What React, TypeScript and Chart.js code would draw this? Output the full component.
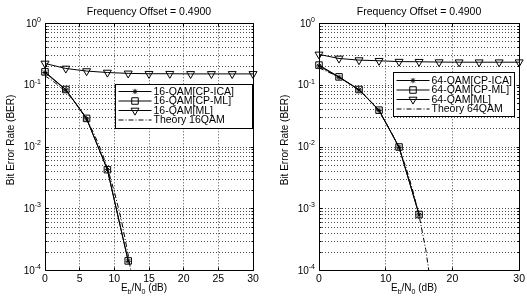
import React, { useEffect, useRef } from 'react';
import { Chart, registerables } from 'chart.js';

Chart.register(...registerables);

const FONT = '"Liberation Sans", Arial, Helvetica, sans-serif';

// ---- shared text / axes ----
const PLOT_TITLE = 'Frequency Offset = 0.4900';
const Y_AXIS_TITLE = 'Bit Error Rate (BER)';
const Y_MIN = 1e-4;
const Y_MAX = 1;
const Y_DECADE_EXPONENTS = [-4, -3, -2, -1, 0];
const Y_TICK_BASE = '10';
const Y_MINOR_MANTISSAS = [1, 2, 3, 4, 5, 6, 7, 8, 9];
const X_MIN = 0;
const X_MAX = 30;

// ---- left panel: 16-QAM ----
const legend16 = ['16-QAM[CP-ICA]', '16-QAM[CP-ML]', '16-QAM[ML]', 'Theory 16QAM'];
const xStep16 = 5;
const snrCp16 = [0, 3, 6, 9, 12];
const berCpIca16 = [0.16, 0.084, 0.0285, 0.0043, 0.000142];
const berCpMl16 = [0.164, 0.085, 0.029, 0.0043, 0.000144];
const snrMl16 = [0, 3, 6, 9, 12, 15, 18, 21, 24, 27, 30];
const berMl16 = [0.224, 0.186, 0.169, 0.16, 0.155, 0.153, 0.153, 0.152, 0.152, 0.152, 0.152];
const snrTheory16 = [0, 1, 2, 3, 4, 5, 6, 7, 8, 9, 10, 11, 12, 13];
const berTheory16 = [0.141, 0.1195, 0.0981, 0.0776, 0.0586, 0.0419, 0.0279, 0.017, 0.0094, 0.0046, 0.0019, 0.00067, 0.00018, 0.000037];

// ---- right panel: 64-QAM ----
const legend64 = ['64-QAM[CP-ICA]', '64-QAM[CP-ML]', '64-QAM[ML]', 'Theory 64QAM'];
const xStep64 = 10;
const snrCp64 = [0, 3, 6, 9, 12, 15];
const berCpIca64 = [0.205, 0.134, 0.084, 0.039, 0.0099, 0.0008];
const berCpMl64 = [0.211, 0.136, 0.085, 0.0394, 0.01, 0.00081];
const snrMl64 = [0, 3, 6, 9, 12, 15, 18, 21, 24, 27, 30];
const berMl64 = [0.314, 0.27, 0.254, 0.248, 0.24, 0.239, 0.236, 0.235, 0.235, 0.235, 0.235];
const snrTheory64 = [0, 1, 2, 3, 4, 5, 6, 7, 8, 9, 10, 11, 12, 13, 14, 15, 16, 17];
const berTheory64 = [0.19, 0.17, 0.152, 0.133, 0.115, 0.098, 0.082, 0.066, 0.051, 0.037, 0.025, 0.016, 0.0095, 0.0048, 0.0021, 0.00078, 0.00022, 0.00004];

const Y_GRID_VALUES: number[] = [];
Y_DECADE_EXPONENTS.forEach((e, i) => {
  if (i === Y_DECADE_EXPONENTS.length - 1) {
    Y_GRID_VALUES.push(Math.pow(10, e));
  } else {
    Y_MINOR_MANTISSAS.forEach((m) => Y_GRID_VALUES.push(m * Math.pow(10, e)));
  }
});

const CANVAS_H = 303;
const PLOT_BOTTOM = 270.7;
const GRID_COLOR = 'rgba(0,0,0,0.7)';

type PanelCfg = {
  left: number;
  width: number;
  plotLeft: number;
  plotRight: number;
  xStep: number;
  labels: string[];
  snrCp: number[];
  berCpIca: number[];
  berCpMl: number[];
  snrMl: number[];
  berMl: number[];
  snrTh: number[];
  berTh: number[];
  legend: { rightGap: number; top: number; width: number; height: number; firstRow: number };
};

const PANELS: PanelCfg[] = [
  {
    left: 0, width: 262, plotLeft: 45, plotRight: 253, xStep: xStep16, labels: legend16,
    snrCp: snrCp16, berCpIca: berCpIca16, berCpMl: berCpMl16, snrMl: snrMl16, berMl: berMl16,
    snrTh: snrTheory16, berTh: berTheory16,
    legend: { rightGap: 1, top: 84, width: 137, height: 44, firstRow: 7 },
  },
  {
    left: 262, width: 265, plotLeft: 57, plotRight: 259, xStep: xStep64, labels: legend64,
    snrCp: snrCp64, berCpIca: berCpIca64, berCpMl: berCpMl64, snrMl: snrMl64, berMl: berMl64,
    snrTh: snrTheory64, berTh: berTheory64,
    legend: { rightGap: 5, top: 72, width: 121, height: 44, firstRow: 8 },
  },
];

const pts = (xs: number[], ys: number[]) => xs.map((x, i) => ({ x, y: ys[i] }));

function makeDatasets(p: PanelCfg) {
  const base = {
    borderColor: '#000', borderWidth: 1, tension: 0, fill: false,
    pointBorderColor: '#000', pointBorderWidth: 1, pointHoverRadius: 0,
  };
  const markClip = { left: 8, right: 8, top: 8, bottom: 0 };
  return [
    { ...base, label: p.labels[0], data: pts(p.snrCp, p.berCpIca), pointStyle: 'star', pointRadius: 2.6, pointBackgroundColor: '#000', clip: markClip },
    { ...base, label: p.labels[1], data: pts(p.snrCp, p.berCpMl), pointStyle: 'rect', pointRadius: 4.6, pointBackgroundColor: 'rgba(0,0,0,0)', clip: markClip },
    { ...base, label: p.labels[2], data: pts(p.snrMl, p.berMl), pointStyle: 'triangle', pointRotation: 180, pointRadius: 4.6, pointBackgroundColor: 'rgba(0,0,0,0)', clip: markClip },
    { ...base, label: p.labels[3], data: pts(p.snrTh, p.berTh), borderDash: [5, 2, 1, 2], pointRadius: 0, clip: { left: 0, right: 0, top: 0, bottom: 0 } },
  ];
}

const align = (v: number) => Math.round(v - 0.5) + 0.5;
const isDecade = (v: number) => {
  const l = Math.log10(v);
  return Math.abs(l - Math.round(l)) < 1e-9;
};

function drawMarker(ctx: CanvasRenderingContext2D, style: string, r: number, x: number, y: number, rotDeg: number) {
  if (!r) return;
  ctx.beginPath();
  if (style === 'star') {
    for (let k = 0; k < 4; k++) {
      const a = (k * Math.PI) / 4;
      ctx.moveTo(x + Math.cos(a) * r, y + Math.sin(a) * r);
      ctx.lineTo(x - Math.cos(a) * r, y - Math.sin(a) * r);
    }
  } else if (style === 'rect') {
    const s = r * Math.SQRT1_2;
    ctx.rect(x - s, y - s, 2 * s, 2 * s);
  } else if (style === 'triangle') {
    let rad = ((rotDeg || 0) * Math.PI) / 180;
    ctx.moveTo(x + Math.sin(rad) * r, y - Math.cos(rad) * r);
    rad += (2 * Math.PI) / 3;
    ctx.lineTo(x + Math.sin(rad) * r, y - Math.cos(rad) * r);
    rad += (2 * Math.PI) / 3;
    ctx.lineTo(x + Math.sin(rad) * r, y - Math.cos(rad) * r);
    ctx.closePath();
  }
  ctx.stroke();
}

function makeDecor(p: PanelCfg) {
  return {
    id: 'decor',
    afterDraw(chart: any) {
      const { ctx, chartArea: a } = chart;
      const xs = chart.scales.x;
      const ys = chart.scales.y;
      const L = align(a.left), R = align(a.right), T = align(a.top), B = align(a.bottom);
      ctx.save();
      ctx.strokeStyle = '#000';
      ctx.lineWidth = 1;
      ctx.setLineDash([]);
      ctx.beginPath();
      xs.ticks.forEach((t: any) => {
        const px = align(xs.getPixelForValue(t.value));
        ctx.moveTo(px, B); ctx.lineTo(px, B - 3);
        ctx.moveTo(px, T); ctx.lineTo(px, T + 3);
      });
      ys.ticks.forEach((t: any) => {
        const len = isDecade(t.value) ? 3 : 2;
        const py = align(ys.getPixelForValue(t.value));
        ctx.moveTo(L, py); ctx.lineTo(L + len, py);
        ctx.moveTo(R, py); ctx.lineTo(R - len, py);
      });
      ctx.rect(L, T, R - L, B - T);
      ctx.stroke();

      // y tick labels 10^n
      ctx.fillStyle = '#000';
      ctx.textBaseline = 'middle';
      ctx.textAlign = 'left';
      Y_DECADE_EXPONENTS.forEach((e) => {
        const py = ys.getPixelForValue(Math.pow(10, e));
        const sup = String(e);
        ctx.font = `7px ${FONT}`;
        const sw = ctx.measureText(sup).width;
        ctx.font = `10px ${FONT}`;
        const bw = ctx.measureText(Y_TICK_BASE).width;
        const right = a.left - 4;
        ctx.fillText(Y_TICK_BASE, right - sw - bw, py + 0.5);
        ctx.font = `7px ${FONT}`;
        ctx.fillText(sup, right - sw, py - 3.5);
      });

      // y axis title
      ctx.save();
      ctx.translate(a.left - 34, (a.top + a.bottom) / 2 - 7);
      ctx.rotate(-Math.PI / 2);
      ctx.textAlign = 'center';
      ctx.textBaseline = 'middle';
      ctx.font = `10px ${FONT}`;
      ctx.fillText(Y_AXIS_TITLE, 0, 0);
      ctx.restore();

      // x axis title E_b/N_0 (dB)
      const parts: [string, number, number][] = [['E', 10, 0], ['b', 7, 2.5], ['/N', 10, 0], ['0', 7, 2.5], [' (dB)', 10, 0]];
      let total = 0;
      parts.forEach(([s, f]) => { ctx.font = `${f}px ${FONT}`; total += ctx.measureText(s).width; });
      let cx = (a.left + a.right) / 2 - 5 - total / 2;
      ctx.textAlign = 'left';
      ctx.textBaseline = 'alphabetic';
      parts.forEach(([s, f, dy]) => {
        ctx.font = `${f}px ${FONT}`;
        ctx.fillText(s, cx, 291 + dy);
        cx += ctx.measureText(s).width;
      });

      // legend
      const lg = p.legend;
      const bx = Math.round(a.right - lg.rightGap - lg.width) + 0.5;
      const by = lg.top + 0.5;
      ctx.fillStyle = '#fff';
      ctx.fillRect(bx, by, lg.width, lg.height);
      ctx.strokeStyle = '#000';
      ctx.strokeRect(bx, by, lg.width, lg.height);
      chart.data.datasets.forEach((ds: any, i: number) => {
        const ry = by + lg.firstRow + i * 9.5;
        ctx.setLineDash(ds.borderDash || []);
        ctx.beginPath();
        ctx.moveTo(bx + 3, ry);
        ctx.lineTo(bx + 36, ry);
        ctx.stroke();
        ctx.setLineDash([]);
        drawMarker(ctx, ds.pointStyle, ds.pointRadius, bx + 19.5, ry, ds.pointRotation);
        ctx.fillStyle = '#000';
        ctx.font = `10.5px ${FONT}`;
        ctx.textBaseline = 'middle';
        ctx.textAlign = 'left';
        ctx.fillText(ds.label, bx + 38, ry + 0.5);
      });
      ctx.restore();
    },
  };
}

function Panel({ p }: { p: PanelCfg }) {
  const ref = useRef<HTMLCanvasElement>(null);
  useEffect(() => {
    const gridCommon = { color: GRID_COLOR, lineWidth: 1, drawTicks: false };
    const chart = new Chart(ref.current as HTMLCanvasElement, {
      type: 'line',
      data: { datasets: makeDatasets(p) as any },
      options: {
        animation: false,
        responsive: false,
        devicePixelRatio: 1,
        layout: { padding: { left: 0, right: p.width - p.plotRight, top: 0, bottom: 0 } },
        plugins: {
          legend: { display: false },
          tooltip: { enabled: false },
          title: {
            display: true, text: PLOT_TITLE, fullSize: false, color: '#000',
            font: { family: FONT, size: 10.5, weight: 'normal' },
            padding: { top: 6, bottom: 4.7 },
          },
        },
        scales: {
          x: {
            type: 'linear', min: X_MIN, max: X_MAX,
            ticks: { stepSize: p.xStep, color: '#000', font: { family: FONT, size: 10.5 }, padding: 2, maxRotation: 0, autoSkip: false },
            grid: gridCommon,
            border: { display: false, dash: [1, 2] },
            afterFit: (s: any) => { s.height = CANVAS_H - PLOT_BOTTOM; },
          },
          y: {
            type: 'logarithmic', min: Y_MIN, max: Y_MAX,
            ticks: { display: false, autoSkip: false },
            grid: gridCommon,
            border: { display: false, dash: [1, 2] },
            afterBuildTicks: (s: any) => { s.ticks = Y_GRID_VALUES.map((v) => ({ value: v })); },
            afterFit: (s: any) => { s.width = p.plotLeft; },
          },
        },
      } as any,
      plugins: [makeDecor(p)],
    });
    return () => chart.destroy();
  }, []);
  return (
    <canvas
      ref={ref}
      width={p.width}
      height={CANVAS_H}
      style={{ position: 'absolute', left: p.left, top: 0, width: p.width, height: CANVAS_H }}
    />
  );
}

export default function App() {
  return (
    <div style={{ position: 'absolute', left: 0, top: 0, width: 527, height: 303, background: '#fff', overflow: 'hidden' }}>
      {PANELS.map((p, i) => (
        <Panel key={i} p={p} />
      ))}
    </div>
  );
}
